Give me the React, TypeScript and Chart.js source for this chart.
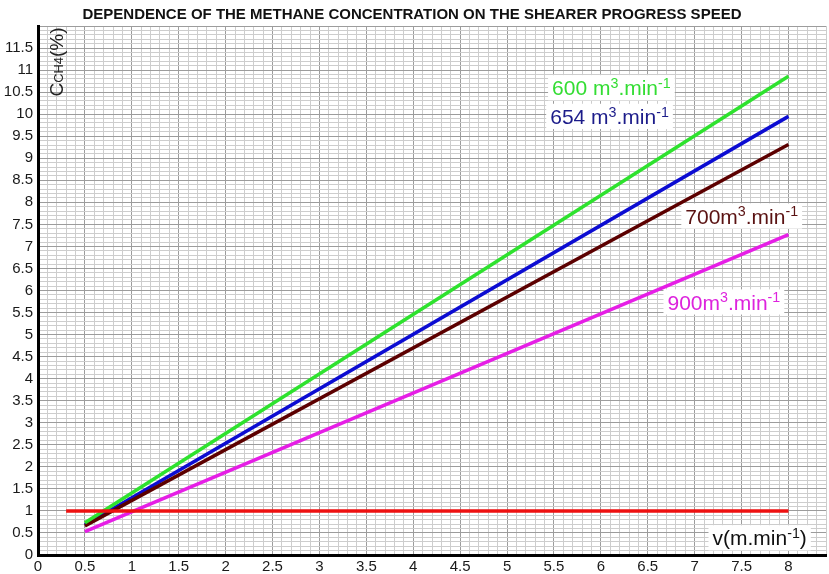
import React, { useEffect, useRef } from 'react';
import { Chart, registerables } from 'chart.js';

Chart.register(...registerables);

const TITLE = 'DEPENDENCE OF THE METHANE CONCENTRATION ON THE SHEARER PROGRESS SPEED';

// shearer progress speed v (m/min) at the ends of each line
const speedEnds = [0.5, 8];
// methane concentration (%) for each air flow
const conc600 = [0.73, 10.86];
const conc654 = [0.68, 9.95];
const conc700 = [0.66, 9.31];
const conc900 = [0.53, 7.27];
// permissible limit line
const limitX = [0.3, 8];
const limitY = [1, 1];

const X_MIN = 0;
const X_MAX = 8.4;
const Y_MIN = 0;
const Y_MAX = 12;
const STEP = 0.1;

const FONT = '"Liberation Sans", Arial, Helvetica, sans-serif';

type Seg = { t: string; s?: 'sup' | 'sub' };

const flowLabels: { segs: Seg[]; color: string; x: number; y: number }[] = [
  { segs: [{ t: '600 m' }, { t: '3', s: 'sup' }, { t: '.min' }, { t: '-1', s: 'sup' }], color: '#33dd33', x: 5.48, y: 10.6 },
  { segs: [{ t: '654 m' }, { t: '3', s: 'sup' }, { t: '.min' }, { t: '-1', s: 'sup' }], color: '#1c1c8a', x: 5.46, y: 9.95 },
  { segs: [{ t: '700m' }, { t: '3', s: 'sup' }, { t: '.min' }, { t: '-1', s: 'sup' }], color: '#5a1212', x: 6.9, y: 7.69 },
  { segs: [{ t: '900m' }, { t: '3', s: 'sup' }, { t: '.min' }, { t: '-1', s: 'sup' }], color: '#dd22dd', x: 6.71, y: 5.74 },
  { segs: [{ t: 'v(m.min' }, { t: '-1', s: 'sup' }, { t: ')' }], color: '#111111', x: 7.19, y: 0.39 },
];

const yTitle: Seg[] = [{ t: 'C' }, { t: 'CH4', s: 'sub' }, { t: '(%)' }];

const isHalf = (v: number) => Math.abs(v * 2 - Math.round(v * 2)) < 1e-6;

function segWidth(ctx: CanvasRenderingContext2D, segs: Seg[], size: number) {
  let w = 0;
  for (const sg of segs) {
    const fs = sg.s ? size * 0.68 : size;
    ctx.font = `${fs}px ${FONT}`;
    w += ctx.measureText(sg.t).width;
  }
  return w;
}

function drawSegs(ctx: CanvasRenderingContext2D, segs: Seg[], x: number, baseline: number, size: number, color: string) {
  let cx = x;
  ctx.fillStyle = color;
  ctx.textAlign = 'left';
  ctx.textBaseline = 'alphabetic';
  for (const sg of segs) {
    const fs = sg.s ? size * 0.68 : size;
    ctx.font = `${fs}px ${FONT}`;
    let dy = 0;
    if (sg.s === 'sup') dy = -size * 0.34;
    if (sg.s === 'sub') dy = size * 0.02;
    ctx.fillText(sg.t, cx, baseline + dy);
    cx += ctx.measureText(sg.t).width;
  }
}

const overlayPlugin = {
  id: 'overlay',
  beforeDatasetsDraw(chart: any) {
    const { ctx } = chart;
    const xs = chart.scales.x;
    const ys = chart.scales.y;
    ctx.save();
    const size = 21;
    for (const lb of flowLabels) {
      const px = xs.getPixelForValue(lb.x);
      const py = ys.getPixelForValue(lb.y);
      const w = segWidth(ctx, lb.segs, size);
      ctx.fillStyle = '#ffffff';
      ctx.fillRect(px - 4, py - size * 0.6, w + 8, size * 1.2);
      drawSegs(ctx, lb.segs, px, py + size * 0.36, size, lb.color);
    }
    ctx.restore();
  },
  afterDatasetsDraw(chart: any) {
    const { ctx } = chart;
    const ys = chart.scales.y;
    ctx.save();
    // title
    ctx.font = `bold 15px ${FONT}`;
    ctx.fillStyle = '#111';
    ctx.textAlign = 'center';
    ctx.textBaseline = 'middle';
    ctx.fillText(TITLE, 412, 15);

    // y axis title (rotated)
    const ty = ys.getPixelForValue(10.4);
    const tx = chart.chartArea.left + 25;
    ctx.translate(tx, ty);
    ctx.rotate(-Math.PI / 2);
    drawSegs(ctx, yTitle, 0, 0, 19, '#222');
    ctx.restore();
  },
};

export default function App() {
  const ref = useRef<HTMLCanvasElement | null>(null);
  useEffect(() => {
    if (!ref.current) return;
    const pts = (ys: number[]) => speedEnds.map((x, i) => ({ x, y: ys[i] }));
    const gridColor = (c: any) => (c.tick && isHalf(c.tick.value) ? '#9c9c9c' : '#cdcdcd');
    const chart = new Chart(ref.current, {
      type: 'line',
      data: {
        datasets: [
          { label: 'limit', data: limitX.map((x, i) => ({ x, y: limitY[i] })), borderColor: '#ee1111', borderWidth: 3.5, pointRadius: 0 },
          { label: '600', data: pts(conc600), borderColor: '#2ee22e', borderWidth: 3.5, pointRadius: 0 },
          { label: '700', data: pts(conc700), borderColor: '#5c0000', borderWidth: 3.5, pointRadius: 0 },
          { label: '654', data: pts(conc654), borderColor: '#0c0cd2', borderWidth: 3.5, pointRadius: 0 },
          { label: '900', data: pts(conc900), borderColor: '#e61ee6', borderWidth: 3.5, pointRadius: 0 },
        ],
      },
      options: {
        responsive: false,
        animation: false,
        devicePixelRatio: 1,
        layout: { padding: { top: 26, right: 2, left: 0, bottom: 0 } },
        plugins: { legend: { display: false }, tooltip: { enabled: false }, title: { display: false } },
        scales: {
          x: {
            type: 'linear',
            min: X_MIN,
            max: X_MAX,
            afterFit: (s: any) => { s.height = 19; },
            grid: { color: gridColor, lineWidth: 1, drawTicks: false },
            border: { color: '#000', width: 3 },
            ticks: {
              stepSize: STEP,
              autoSkip: false,
              maxRotation: 0,
              padding: 3,
              color: '#1a1a1a',
              font: { family: FONT, size: 15 },
              callback: (v: any) => (isHalf(Number(v)) ? String(Math.round(Number(v) * 10) / 10) : ''),
            },
          },
          y: {
            type: 'linear',
            min: Y_MIN,
            max: Y_MAX,
            afterFit: (s: any) => { s.width = 38; },
            grid: { color: gridColor, lineWidth: 1, drawTicks: false },
            border: { color: '#000', width: 3 },
            ticks: {
              stepSize: STEP,
              autoSkip: false,
              padding: 5,
              color: '#1a1a1a',
              font: { family: FONT, size: 15 },
              callback: (v: any) => {
                const n = Number(v);
                if (!isHalf(n) || n >= Y_MAX - 1e-6) return '';
                return String(Math.round(n * 10) / 10);
              },
            },
          },
        },
      },
      plugins: [overlayPlugin],
    } as any);
    return () => chart.destroy();
  }, []);
  return (
    <div style={{ position: 'fixed', left: 0, top: 0, width: 829, height: 574, background: '#fff' }}>
      <canvas ref={ref} width={829} height={574} style={{ display: 'block' }} />
    </div>
  );
}
